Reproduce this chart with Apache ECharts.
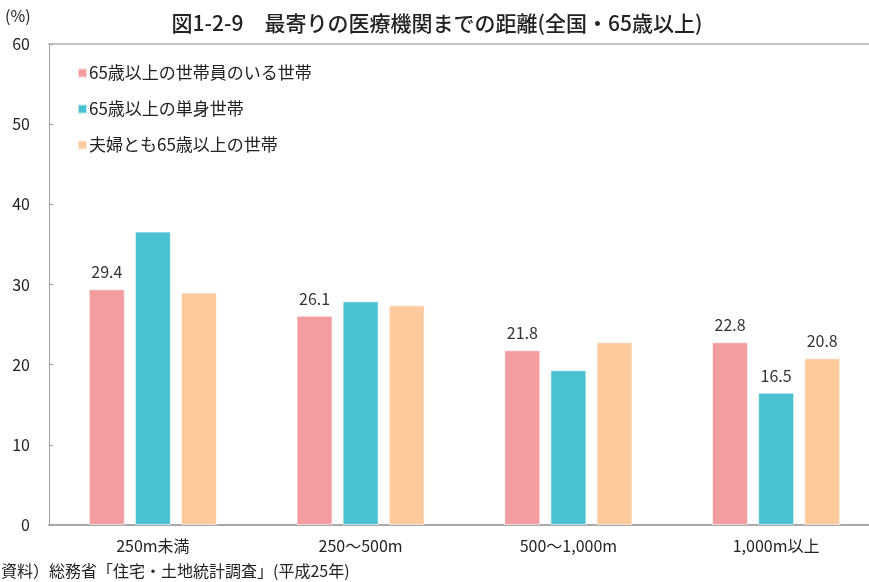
<!DOCTYPE html>
<html>
<head>
<meta charset="utf-8">
<title>最寄りの医療機関までの距離</title>
<script src="https://cdn.jsdelivr.net/npm/echarts@6/dist/echarts.min.js"></script>
<style>
  html, body { margin: 0; padding: 0; background: #ffffff; }
  #chart { width: 869px; height: 582px; }
</style>
</head>
<body>
<div id="chart"></div>
<script>
// Distance categories
const categories = ['250m未満', '250～500m', '500～1,000m', '1,000m以上'];

// Share of households (%) per distance category
const seriesNames = ['65歳以上の世帯員のいる世帯', '65歳以上の単身世帯', '夫婦とも65歳以上の世帯'];
const withElderly = [29.4, 26.1, 21.8, 22.8];
const elderlySingle = [36.6, 27.9, 19.3, 16.5];
const elderlyCouple = [29.0, 27.4, 22.8, 20.8];

// Which bars carry a value label
const labelWithElderly = [true, true, true, true];
const labelElderlySingle = [false, false, false, true];
const labelElderlyCouple = [false, false, false, true];

const yTicks = { min: 0, max: 60, interval: 10 };

const colors = ['#F49DA0', '#4AC1D1', '#FDCA9E'];
const FONT = '"Noto Sans CJK JP", "Noto Sans", sans-serif';

function buildData(values, flags) {
  return values.map((v, i) => ({
    value: v,
    label: { show: flags[i] }
  }));
}

const chart = echarts.init(document.getElementById('chart'), null, { renderer: 'canvas' });

const barCommon = {
  type: 'bar',
  barWidth: 36,
  barGap: '28%',
  label: {
    position: 'top',
    distance: 9,
    color: '#333',
    fontSize: 16,
    fontFamily: FONT
  },
  itemStyle: { borderColor: 'rgba(255,255,255,0.6)', borderWidth: 1 }
};

chart.setOption({
  animation: false,
  textStyle: { fontFamily: FONT },
  title: {
    text: '図1-2-9　最寄りの医療機関までの距離(全国・65歳以上)',
    left: 432,
    textAlign: 'center',
    top: 8,
    textStyle: { fontSize: 21, fontWeight: 500, color: '#222', fontFamily: FONT }
  },
  legend: {
    orient: 'vertical',
    left: 72,
    top: 56,
    itemWidth: 9,
    itemHeight: 9,
    itemGap: 12,
    icon: 'rect',
    textStyle: { fontSize: 17, lineHeight: 24, color: '#222', fontFamily: FONT, padding: [0, 0, 0, -3] },
    data: seriesNames
  },
  // plot area runs slightly past the right edge of the canvas
  grid: { left: 49, width: 831, top: 44, bottom: 57, containLabel: false, outerBoundsMode: 'none' },
  xAxis: [
    {
      type: 'category',
      data: categories,
      axisLine: { show: true, lineStyle: { color: '#a8a8a8', width: 2 } },
      axisTick: { show: false },
      axisLabel: { color: '#222', fontSize: 16, margin: 13, fontFamily: FONT }
    },
    {
      type: 'category',
      data: categories,
      position: 'top',
      axisLine: { show: true, lineStyle: { color: '#c4c4c4', width: 2 } },
      axisTick: { show: false },
      axisLabel: { show: false }
    }
  ],
  yAxis: {
    type: 'value',
    min: yTicks.min,
    max: yTicks.max,
    interval: yTicks.interval,
    axisLine: { show: true, lineStyle: { color: '#a0a0a0', width: 1 } },
    axisTick: { show: true, inside: true, length: 4, lineStyle: { color: '#a0a0a0' } },
    splitLine: { show: false },
    axisLabel: { color: '#222', fontSize: 16, margin: 19, fontFamily: FONT }
  },
  graphic: [
    {
      type: 'text',
      left: 5,
      top: 8,
      style: { text: '(%)', fontSize: 16, fill: '#222', fontFamily: FONT }
    },
    {
      type: 'text',
      left: -15,
      top: 563,
      style: { text: '（資料）総務省「住宅・土地統計調査」(平成25年)', fontSize: 16, fill: '#222', fontFamily: FONT }
    }
  ],
  series: [
    Object.assign({}, barCommon, {
      name: seriesNames[0],
      itemStyle: Object.assign({}, barCommon.itemStyle, { color: colors[0] }),
      data: buildData(withElderly, labelWithElderly)
    }),
    Object.assign({}, barCommon, {
      name: seriesNames[1],
      itemStyle: Object.assign({}, barCommon.itemStyle, { color: colors[1] }),
      data: buildData(elderlySingle, labelElderlySingle)
    }),
    Object.assign({}, barCommon, {
      name: seriesNames[2],
      itemStyle: Object.assign({}, barCommon.itemStyle, { color: colors[2] }),
      data: buildData(elderlyCouple, labelElderlyCouple)
    })
  ]
});
</script>
</body>
</html>
